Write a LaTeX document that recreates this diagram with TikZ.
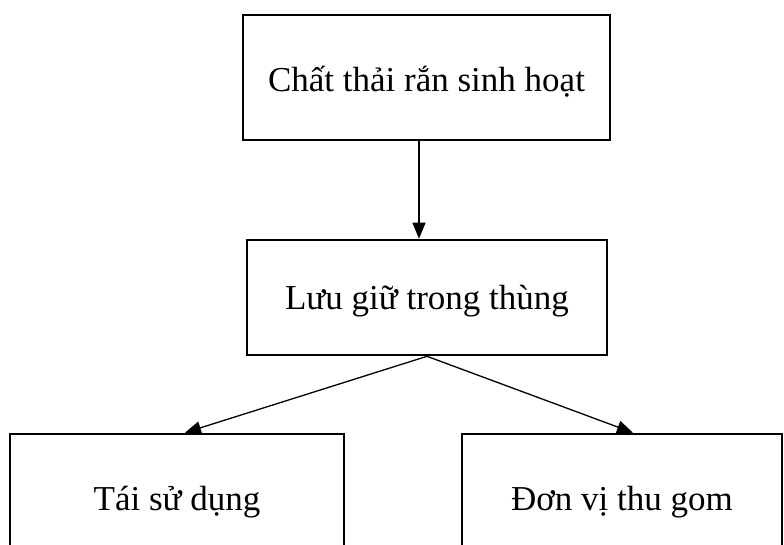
\documentclass[tikz,border=0pt]{standalone}
\usepackage{fontspec}
\setmainfont{Liberation Serif}
\usetikzlibrary{arrows.meta}
\begin{document}
\begin{tikzpicture}[x=1pt,y=-1pt,
  box/.style={draw,line width=2.6pt,inner sep=0pt,text height=31pt,text depth=8pt,
    font=\fontsize{35}{42}\selectfont},
  link/.style={line width=1.3pt,-{Triangle[length=16pt,width=13pt]}}]
  \useasboundingbox (0,0) rectangle (784,545);
  \clip (0,0) rectangle (784,545);
  % source box
  \node[box,minimum width=367pt,minimum height=125pt,text height=35pt,text depth=6pt] (top) at (426.5,77.5) {Chất thải rắn sinh hoạt};
  % storage box
  \node[box,minimum width=360pt,minimum height=115pt] (mid) at (427,297.5) {Lưu giữ trong thùng};
  % the two outcomes, running past the lower edge
  \node[box,minimum width=334pt,minimum height=130pt] (reuse) at (177,499) {Tái sử dụng};
  \node[box,minimum width=320pt,minimum height=130pt] (collect) at (622,499) {Đơn vị thu gom};
  % arrow attachment points
  \coordinate (a) at (419,0);
  \coordinate (b) at (185,0);
  \coordinate (c) at (633,0);
  \draw[link] (top.south -| a) -- (mid.north -| a);
  \draw[link] (mid.south) -- (reuse.north -| b);
  \draw[link] (mid.south) -- (collect.north -| c);
\end{tikzpicture}
\end{document}
